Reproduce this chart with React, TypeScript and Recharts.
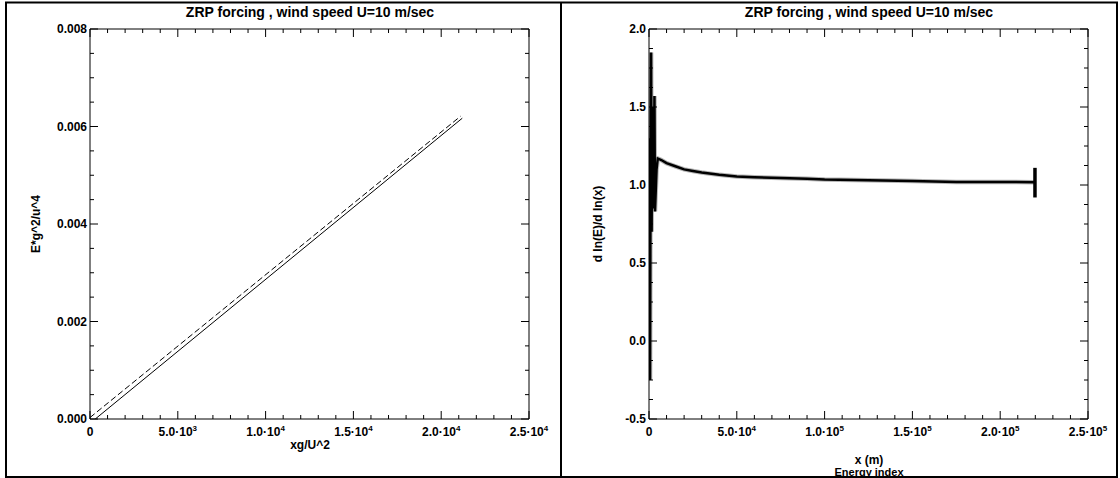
import { LineChart, Line, XAxis, YAxis } from 'recharts'

// left panel: nondimensional energy vs fetch
const solidX = [300, 21200]
const solidY = [0, 0.00617]
const dashX = [0, 21100]
const dashY = [0.00003, 0.00621]

// right panel: energy index d ln(E)/d ln(x)
const idxX = [0, 300, 600, 900, 1200, 1500, 1800, 2100, 2400, 2800, 3100, 3400, 3800, 4300, 5000, 7000, 10000, 15000, 20000, 25000, 30000, 40000, 50000, 60000, 75000, 90000, 100000, 125000, 150000, 175000, 200000, 219800]
const idxY = [1.3, 0.8, -0.25, 1.2, 1.85, 0.7, 1.5, 0.9, 1.3, 0.85, 1.57, 0.83, 0.95, 1.1, 1.17, 1.16, 1.14, 1.12, 1.1, 1.09, 1.08, 1.065, 1.055, 1.05, 1.045, 1.04, 1.035, 1.03, 1.025, 1.02, 1.02, 1.018]
const endBarX = [219800, 219800]
const endBarY = [0.92, 1.11]

const leftXTicks = Array.from({ length: 26 }, (_, i) => i * 1000)
const leftYTicks = Array.from({ length: 17 }, (_, i) => +(i * 0.0005).toFixed(4))
const rightXTicks = Array.from({ length: 26 }, (_, i) => i * 10000)
const rightYTicks = Array.from({ length: 21 }, (_, i) => -0.5 + i * 0.125)

const FONT = '"Liberation Sans", Arial, Helvetica, sans-serif'

const pts = (xs: number[], ys: number[]) => xs.map((x, i) => ({ x, y: ys[i] }))

const isMajor = (v: number, step: number) => Math.abs(v / step - Math.round(v / step)) < 1e-6

function sciLabel(v: number, x: number, y: number) {
  if (v === 0) {
    return <text x={x} y={y} textAnchor="middle" fontSize={12} fontWeight="bold" fontFamily={FONT}>0</text>
  }
  const exp = Math.floor(Math.log10(v) + 1e-9)
  const mant = (v / Math.pow(10, exp)).toFixed(1)
  return (
    <text x={x} y={y} textAnchor="middle" fontSize={12} fontWeight="bold" fontFamily={FONT}>
      {mant}·10<tspan dy={-5} fontSize={8}>{exp}</tspan>
    </text>
  )
}

const xTick = (step: number, side: 'bottom' | 'top') => (p: any) => {
  const v = p.payload.value
  const major = isMajor(v, step)
  const len = major ? 8 : 4
  const dir = side === 'bottom' ? -1 : 1
  return (
    <g>
      <line x1={p.x} x2={p.x} y1={p.y} y2={p.y + dir * len} stroke="#000" strokeWidth={1} />
      {side === 'bottom' && major ? sciLabel(v, p.x, p.y + 17) : null}
    </g>
  )
}

const yTick = (step: number, digits: number, side: 'left' | 'right') => (p: any) => {
  const v = p.payload.value
  const major = isMajor(v, step)
  const len = major ? 8 : 4
  const dir = side === 'left' ? 1 : -1
  return (
    <g>
      <line x1={p.x} x2={p.x + dir * len} y1={p.y} y2={p.y} stroke="#000" strokeWidth={1} />
      {side === 'left' && major ? (
        <text x={p.x - 3} y={p.y + 4} textAnchor="end" fontSize={12} fontWeight="bold" fontFamily={FONT}>
          {v.toFixed(digits)}
        </text>
      ) : null}
    </g>
  )
}

function Panel({ xDomain, yDomain, xTicks, yTicks, xStep, yStep, yDigits, children, left }: any) {
  const axisLine = { stroke: '#000', strokeWidth: 1 }
  return (
    <div style={{ position: 'absolute', left, top: 0 }}>
      <LineChart width={560} height={478} margin={{ top: 28, right: 30, bottom: 58, left: 89 }}>
        <XAxis xAxisId="b" type="number" dataKey="x" domain={xDomain} ticks={xTicks} interval={0} height={1}
          tickSize={0} tickMargin={0} tickLine={false} axisLine={axisLine} tick={xTick(xStep, 'bottom')} allowDataOverflow />
        <XAxis xAxisId="t" orientation="top" type="number" dataKey="x" domain={xDomain} ticks={xTicks} interval={0} height={1}
          tickSize={0} tickMargin={0} tickLine={false} axisLine={axisLine} tick={xTick(xStep, 'top')} allowDataOverflow />
        <YAxis yAxisId="l" type="number" dataKey="y" domain={yDomain} ticks={yTicks} interval={0} width={1}
          tickSize={0} tickMargin={0} tickLine={false} axisLine={axisLine} tick={yTick(yStep, yDigits, 'left')} allowDataOverflow />
        <YAxis yAxisId="r" orientation="right" type="number" dataKey="y" domain={yDomain} ticks={yTicks} interval={0} width={1}
          tickSize={0} tickMargin={0} tickLine={false} axisLine={axisLine} tick={yTick(yStep, yDigits, 'right')} allowDataOverflow />
        {children}
      </LineChart>
    </div>
  )
}

export default function App() {
  return (
    <div style={{ position: 'absolute', left: 0, top: 0, width: 1120, height: 478, background: '#fff', overflow: 'hidden' }}>
      <Panel left={0} xDomain={[0, 25000]} yDomain={[0, 0.008]} xTicks={leftXTicks} yTicks={leftYTicks}
        xStep={5000} yStep={0.002} yDigits={3}>
        <Line xAxisId="b" yAxisId="l" data={pts(solidX, solidY)} dataKey="y" stroke="#000" strokeWidth={1}
          dot={false} activeDot={false} isAnimationActive={false} />
        <Line xAxisId="b" yAxisId="l" data={pts(dashX, dashY)} dataKey="y" stroke="#000" strokeWidth={1}
          strokeDasharray="6 3" dot={false} activeDot={false} isAnimationActive={false} />
      </Panel>
      <Panel left={559} xDomain={[0, 250000]} yDomain={[-0.5, 2]} xTicks={rightXTicks} yTicks={rightYTicks}
        xStep={50000} yStep={0.5} yDigits={1}>
        <Line xAxisId="b" yAxisId="l" data={pts(idxX, idxY)} dataKey="y" stroke="#b5b5b5" strokeWidth={4.5}
          dot={false} activeDot={false} isAnimationActive={false} />
        <Line xAxisId="b" yAxisId="l" data={pts(idxX, idxY)} dataKey="y" stroke="#000" strokeWidth={2.5}
          dot={false} activeDot={false} isAnimationActive={false} />
        <Line xAxisId="b" yAxisId="l" data={pts(endBarX, endBarY)} dataKey="y" stroke="#000" strokeWidth={3.5}
          dot={false} activeDot={false} isAnimationActive={false} />
      </Panel>
      <svg width={1120} height={478} style={{ position: 'absolute', left: 0, top: 0, pointerEvents: 'none' }}
        fontFamily={FONT} fontWeight="bold">
        <text x={310} y={17} textAnchor="middle" fontSize={14}>ZRP forcing , wind speed U=10 m/sec</text>
        <text x={869} y={17} textAnchor="middle" fontSize={14}>ZRP forcing , wind speed U=10 m/sec</text>
        <text x={310} y={449} textAnchor="middle" fontSize={12}>xg/U^2</text>
        <text transform="translate(40,224) rotate(-90)" textAnchor="middle" fontSize={12}>E*g^2/u^4</text>
        <text transform="translate(602,224) rotate(-90)" textAnchor="middle" fontSize={12}>d ln(E)/d ln(x)</text>
        <text x={869} y={464} textAnchor="middle" fontSize={12}>x (m)</text>
        <text x={869} y={476} textAnchor="middle" fontSize={11}>Energy index</text>
        <g stroke="#000" strokeWidth={2}>
          <line x1={5} x2={1118} y1={2.5} y2={2.5} />
          <line x1={5} x2={1118} y1={477} y2={477} />
          <line x1={6} x2={6} y1={2} y2={477} />
          <line x1={561} x2={561} y1={2} y2={477} />
          <line x1={1117} x2={1117} y1={2} y2={477} />
        </g>
      </svg>
    </div>
  )
}
